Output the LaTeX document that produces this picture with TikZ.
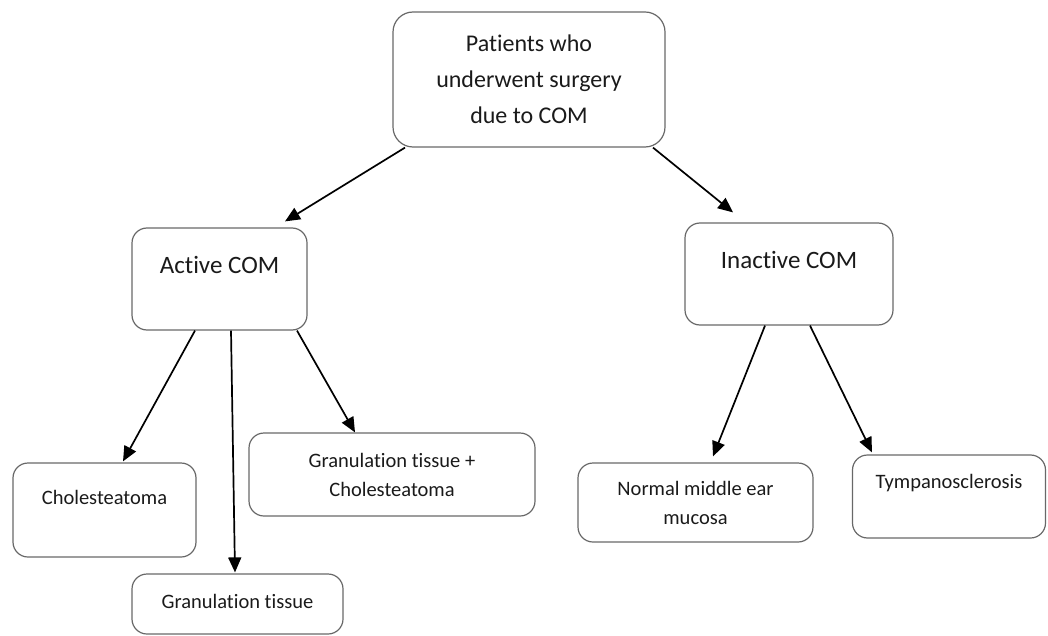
\documentclass[tikz,border=0pt]{standalone}
\usepackage{fontspec}
\setmainfont{Carlito}[Ligatures=NoCommon]
\usetikzlibrary{arrows.meta}
\definecolor{BoxEdge}{HTML}{686868}
\definecolor{InkDark}{HTML}{1A1A1A}
\tikzset{box/.style={rounded corners=15pt,draw=BoxEdge,line width=1.2pt,align=center,inner sep=0pt,text=InkDark}, topbox/.style={box,rounded corners=20pt,font=\fontsize{24}{36}\selectfont}, midtext/.style={font=\fontsize{25}{30}\selectfont,text=InkDark}, leaftext/.style={font=\fontsize{20.5}{29}\selectfont,text=InkDark,align=center}, leafbox/.style={box,leaftext}, arrow/.style={-{Triangle[length=15pt,width=13pt]},line width=1.7pt,draw=black}}

\begin{document}
\begin{tikzpicture}[x=1pt,y=-1pt]
\useasboundingbox (0,0) rectangle (1048,636);
\node[topbox,minimum width=272pt,minimum height=135pt] (top) at (529,79.5) {Patients who\\underwent surgery\\due to COM};
\node[box,minimum width=175pt,minimum height=102pt,label={[midtext,shift={(0,-14)}]center:Active COM}] (act) at (219.5,279) {};
\node[box,minimum width=208pt,minimum height=102pt,label={[midtext,shift={(0,-14)}]center:Inactive COM}] (inact) at (789,274) {};
\node[box,minimum width=183pt,minimum height=94pt,label={[leaftext,shift={(0,-12.5)}]center:Cholesteatoma}] (chol) at (104.5,510) {};
\node[box,minimum width=211pt,minimum height=60pt,label={[leaftext,shift={(0,-3)}]center:Granulation tissue}] (gran) at (237.5,604) {};
\node[leafbox,minimum width=286pt,minimum height=83pt] (gc) at (392,474.5) {Granulation tissue +\\Cholesteatoma};
\node[leafbox,minimum width=235pt,minimum height=79pt] (norm) at (695.5,502.5) {Normal middle ear\\mucosa};
\node[box,minimum width=193pt,minimum height=83pt,label={[leaftext,shift={(0,-13)}]center:Tympanosclerosis}] (tymp) at (949,496.5) {};
\foreach \src/\sx/\dst/\dx/\gap in {top/-124/act/65.5/6,top/124/inact/-56/10,act/-24.5/chol/18.5/1,act/11.5/gran/-2.5/1,act/77.5/gc/-37/0,inact/-24/norm/17.5/6,inact/21/tymp/-77/2}{\draw[arrow] ([xshift=\sx]\src.south) -- ([shift={(\dx,-\gap)}]\dst.north);}
\end{tikzpicture}
\end{document}
